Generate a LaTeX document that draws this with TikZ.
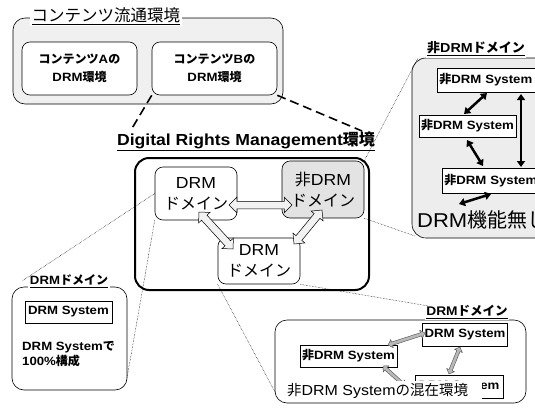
\documentclass[tikz,border=0pt]{standalone}
\usepackage{fontspec}
\setmainfont{Liberation Sans}[FakeStretch=1.1]
\newfontfamily\jp{Noto Sans CJK JP}
\usetikzlibrary{shapes.arrows,calc,arrows.meta}
\newcommand\J[1]{{\jp #1}}
\newcommand\fs[2]{\fontsize{#1}{#2}\selectfont}
\newcommand\barrow[3]{\path let \p1=($(#3)-(#2)$), \n1={veclen(\x1,\y1)} in (#2) -- (#3) node[midway, sloped, #1, minimum height=\n1] {};}
\tikzset{
  panel/.style={draw, rounded corners=12pt, line width=0.6pt, inner sep=0pt},
  ptitle/.style={fill=white, inner sep=1.5pt},
  sysbox/.style={draw, fill=white, line width=0.5pt, inner sep=2pt, font=\fs{12}{14}\bfseries},
  dom/.style={draw, rounded corners=8pt, fill=white, align=center, line width=0.6pt, inner sep=0pt, font=\fs{16}{21}},
  inbox/.style={draw, rounded corners=8pt, fill=white, align=center, line width=0.6pt, inner sep=0pt, font=\fs{12}{18}\bfseries},
  bigarrow/.style={double arrow, draw, fill=gray!10, inner xsep=0pt, inner ysep=3.5pt, double arrow head extend=4pt, line width=0.5pt},
  smallarrow/.style={double arrow, draw=black!70, fill=gray!55, inner xsep=0pt, inner ysep=1.5pt, double arrow head extend=2.5pt, line width=0.4pt},
  blackarr/.style={{Triangle[length=6pt,width=8pt]}-{Triangle[length=6pt,width=8pt]}, line width=2.5pt},
  link/.style={densely dotted, line width=0.5pt},
  biglink/.style={line width=1.6pt, dash pattern=on 9pt off 5pt}
}
\begin{document}
\begin{tikzpicture}[x=1pt, y=-1pt]
\clip (0,0) rectangle (535,407);
\fill[white] (0,0) rectangle (535,407);

% ---- top panel
\node[panel, fill=gray!12, minimum width=270pt, minimum height=86pt] (top) at (148,61) {};
\node[ptitle, anchor=west, font=\fs{16.5}{19}] (toptitle) at (30,16) {\underline{\J{コンテンツ流通環境}}};
\node[inbox, minimum width=115pt, minimum height=53pt] (A) at (79.5,68.5) {\J{コンテンツ}A\J{の}\\DRM\J{環境}};
\node[inbox, minimum width=125pt, minimum height=53pt] (B) at (214.5,68.5) {\J{コンテンツ}B\J{の}\\DRM\J{環境}};

% ---- DRM environment
\node[font=\fs{16}{18}\bfseries] (envtitle) at (246,141) {\underline{Digital Rights Management\J{環境}}};
\node[draw, rounded corners=14pt, line width=2pt, minimum width=234pt, minimum height=132pt] (env) at (252,224) {};
\node[dom, minimum width=82pt, minimum height=53pt] (d1) at (196,193.5) {DRM\\\J{ドメイン}};
\node[dom, fill=gray!22, minimum width=82pt, minimum height=57pt] (d2) at (323,189.5) {\J{非}DRM\\\J{ドメイン}};
\node[dom, minimum width=82pt, minimum height=46pt] (d3) at (259,261) {DRM\\\J{ドメイン}};

\coordinate (h1) at (229,205); \coordinate (h2) at (292,205);
\coordinate (p1) at (199,212); \coordinate (p2) at (233,249);
\coordinate (q1) at (322,210); \coordinate (q2) at (294,244);
\barrow{bigarrow}{h1}{h2}
\barrow{bigarrow}{p1}{p2}
\barrow{bigarrow}{q1}{q2}

% ---- dashed links from top panel
\coordinate (e1) at (131,130);
\coordinate (e2) at (362,131);
\draw[biglink] (B.south west) -- (e1);
\draw[biglink] (B.south east) -- (e2);

% ---- right panel: non-DRM domain
\node[panel, fill=gray!14, rounded corners=14pt, minimum width=140pt, minimum height=180pt] (rp) at (482,148) {};
\node[ptitle, font=\fs{13}{15}\bfseries] (rtitle) at (476,49) {\underline{\J{非}DRM\J{ドメイン}}};
\node[sysbox, anchor=west, text width=100pt, align=left, minimum height=24pt] (r1) at (437,80) {\J{非}DRM System};
\node[sysbox, minimum width=95pt, minimum height=22pt] (r2) at (467.5,126) {\J{非}DRM System};
\node[sysbox, anchor=west, text width=100pt, align=left, minimum height=25pt] (r3) at (442,180.5) {\J{非}DRM System};
\node[anchor=west, inner sep=0pt, font=\fs{20}{22}] (nofunc) at (417,220) {DRM\J{機能無し}};
\coordinate (ra1) at (487,93);  \coordinate (ra2) at (464,114);
\coordinate (rb1) at (467,140); \coordinate (rb2) at (483,166);
\coordinate (rc1) at (521,94);  \coordinate (rc2) at (521,167);
\coordinate (rd1) at (491,194); \coordinate (rd2) at (459,204);
\draw[blackarr] (ra1) -- (ra2);
\draw[blackarr] (rb1) -- (rb2);
\draw[blackarr] (rc1) -- (rc2);
\draw[blackarr] (rd1) -- (rd2);

% ---- bottom-left panel
\node[panel, fill=white, minimum width=115pt, minimum height=103pt] (bl) at (69.5,338.5) {};
\node[ptitle, font=\fs{12}{14}\bfseries] (bltitle) at (69,281) {\underline{DRM\J{ドメイン}}};
\node[sysbox, minimum width=87pt, minimum height=22pt] (bls) at (68.5,312) {DRM System};
\node[anchor=west, align=left, inner sep=0pt, font=\fs{12}{15}\bfseries] (bltext) at (22,354.5) {DRM System\J{で}\\100\%\J{構成}};

% ---- bottom-right panel
\node[panel, fill=white, minimum width=251pt, minimum height=83pt] (br) at (400.5,361.5) {};
\node[ptitle, font=\fs{12.5}{15}\bfseries] (brtitle) at (467,312) {\underline{DRM\J{ドメイン}}};
\node[sysbox, minimum width=84pt, minimum height=23pt] (br1) at (465,334.5) {DRM System};
\node[sysbox, minimum width=93pt, minimum height=22pt] (br2) at (348.5,356) {\J{非}DRM System};
\node[sysbox, minimum width=88pt, minimum height=23pt] (br3) at (459,386.5) {DRM System};
\coordinate (ba1) at (388,345); \coordinate (ba2) at (425,333);
\coordinate (bb1) at (460,347); \coordinate (bb2) at (449,374);
\coordinate (bc1) at (383,366); \coordinate (bc2) at (405,386);
\barrow{smallarrow}{ba1}{ba2}
\barrow{smallarrow}{bb1}{bb2}
\barrow{smallarrow}{bc1}{bc2}
\node[anchor=west, fill=white, inner sep=2pt, font=\fs{14.5}{16}] (brtext) at (285,391) {\J{非}DRM System\J{の混在環境}\kern12pt};

% ---- dotted callout links
\coordinate (c1) at (22,281);
\coordinate (c2) at (127,378);
\coordinate (c3) at (418,58);
\coordinate (c4) at (415,236);
\coordinate (c5) at (428,306);
\coordinate (c6) at (275,392);
\draw[link] (d1.west) -- (c1);
\draw[link] (d1.south west) -- (c2);
\draw[link] (d2.north east) -- (c3);
\draw[link] (d2.south east) -- (c4);
\draw[link] (d3.south east) -- (c5);
\draw[link] (d3.south west) -- (c6);
\end{tikzpicture}
\end{document}
